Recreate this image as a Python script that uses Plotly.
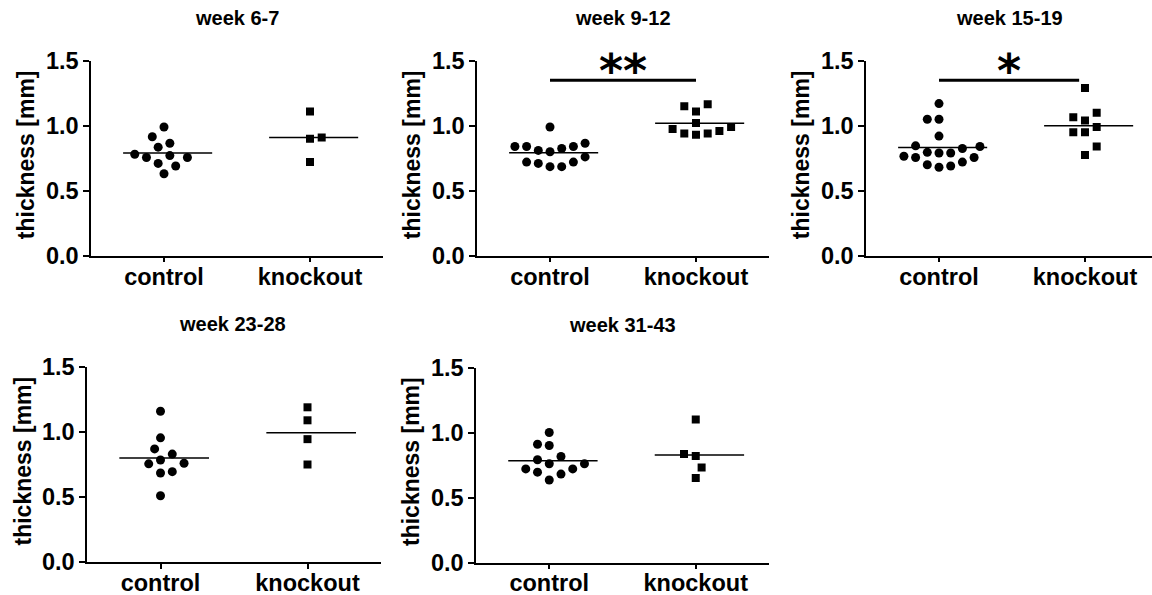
import plotly.graph_objects as go
import numpy as np

# ---------------- data ----------------
categories = ["control", "knockout"]
titles = ["week 6-7", "week 9-12", "week 15-19", "week 23-28", "week 31-43"]
y_tickvals = [0.0, 0.5, 1.0, 1.5]
y_ticktext = ["0.0", "0.5", "1.0", "1.5"]
y_title = "thickness [mm]"

wk6_control = [0.99, 0.915, 0.865, 0.835, 0.78, 0.755, 0.755, 0.77, 0.71, 0.69, 0.63]
wk6_knockout = [1.11, 0.91, 0.90, 0.72]
wk9_control = [0.99, 0.84, 0.84, 0.81, 0.80, 0.825, 0.84, 0.865, 0.76, 0.72, 0.71, 0.685, 0.685, 0.72]
wk9_knockout = [1.15, 1.11, 1.165, 1.02, 0.975, 0.94, 0.93, 0.94, 0.96, 0.99]
wk15_control = [1.17, 1.05, 1.05, 0.92, 0.845, 0.825, 0.84, 0.765, 0.755, 0.79, 0.79, 0.795,
                0.755, 0.69, 0.68, 0.70, 0.72]
wk15_knockout = [1.29, 1.10, 1.065, 1.04, 0.99, 0.95, 0.95, 0.84, 0.775]
wk23_control = [1.16, 0.955, 0.87, 0.83, 0.785, 0.76, 0.755, 0.695, 0.685, 0.51]
wk23_knockout = [1.19, 1.09, 0.945, 0.75]
wk31_control = [1.00, 0.90, 0.91, 0.815, 0.79, 0.76, 0.76, 0.72, 0.72, 0.695, 0.68, 0.635]
wk31_knockout = [1.10, 0.835, 0.82, 0.73, 0.65]

significance = ["", "**", "*", "", ""]
sig_height = 1.35

# ---------------- layout geometry ----------------
W, H = 1152, 595
panels = [
    dict(ctrl=wk6_control, ko=wk6_knockout, x0=91, x1=383, yt=60.7, yb=255.7, xr=(-0.5, 1.5)),
    dict(ctrl=wk9_control, ko=wk9_knockout, x0=477, x1=769, yt=60.7, yb=255.7, xr=(-0.5, 1.5)),
    dict(ctrl=wk15_control, ko=wk15_knockout, x0=866, x1=1152, yt=60.7, yb=255.7, xr=(-0.5, 1.459)),
    dict(ctrl=wk23_control, ko=wk23_knockout, x0=87, x1=381, yt=367.0, yb=562.0, xr=(-0.5, 1.5)),
    dict(ctrl=wk31_control, ko=wk31_knockout, x0=476, x1=769, yt=367.5, yb=562.5, xr=(-0.5, 1.5)),
]

FONT = "Liberation Sans, Arial, Helvetica, sans-serif"
X_PX = 146.0   # pixels per category unit
Y_PX = 130.0   # pixels per mm
DIAM = 11.7    # minimum centre distance between symbols (px)


def swarm_offsets(vals, d=DIAM):
    """Simple beeswarm: place symbols at the smallest horizontal offset that avoids overlap."""
    step = d / 2.0
    cands = [0.0]
    for k in range(1, 40):
        cands += [k * step, -k * step]
    order = sorted(range(len(vals)), key=lambda i: vals[i])
    placed = []
    offs = [0.0] * len(vals)
    for i in order:
        y = vals[i] * Y_PX
        feas = [o for o in cands
                if all((o - px) ** 2 + (y - py) ** 2 >= d * d - 1e-6 for px, py in placed)]
        best = min(abs(o) for o in feas)
        opts = [o for o in feas if abs(o) == best]
        if len(opts) > 1:
            left = sum(1 for px, _ in placed if px < 0)
            right = sum(1 for px, _ in placed if px > 0)
            o = min(opts) if left < right else max(opts)
        else:
            o = opts[0]
        placed.append((o, y))
        offs[i] = o / X_PX
    return offs


fig = go.Figure()
layout = dict(
    width=W, height=H, autosize=False,
    margin=dict(l=0, r=0, t=0, b=0, pad=0),
    paper_bgcolor="white", plot_bgcolor="white",
    showlegend=False,
    font=dict(family=FONT, color="black"),
)
annotations = []
shapes = []

for idx, p in enumerate(panels):
    n = idx + 1
    xa = "xaxis" if n == 1 else f"xaxis{n}"
    ya = "yaxis" if n == 1 else f"yaxis{n}"
    xr = "x" if n == 1 else f"x{n}"
    yr = "y" if n == 1 else f"y{n}"
    dom_x = [p["x0"] / W, p["x1"] / W]
    dom_y = [1 - p["yb"] / H, 1 - p["yt"] / H]

    layout[xa] = dict(
        domain=dom_x, anchor=yr, range=list(p["xr"]), automargin=False,
        tickmode="array", tickvals=[0, 1], ticktext=categories,
        ticks="outside", ticklen=5, tickwidth=1.5, tickcolor="black",
        ticklabelstandoff=-6,
        showline=True, linecolor="black", linewidth=1.5,
        showgrid=False, zeroline=False, fixedrange=True,
        tickfont=dict(family=FONT, size=23.5, color="black", weight="bold"),
    )
    layout[ya] = dict(
        domain=dom_y, anchor=xr, range=[0, 1.5], automargin=False,
        tickmode="array", tickvals=y_tickvals, ticktext=y_ticktext,
        ticks="outside", ticklen=6, tickwidth=1.5, tickcolor="black",
        showline=True, linecolor="black", linewidth=1.5,
        showgrid=False, zeroline=False, fixedrange=True,
        tickfont=dict(family=FONT, size=23.5, color="black", weight="bold"),
    )

    for gi, (vals, sym, size) in enumerate([(p["ctrl"], "circle", 9), (p["ko"], "square", 8)]):
        offs = swarm_offsets(vals)
        fig.add_trace(go.Scatter(
            x=[gi + o for o in offs], y=vals, mode="markers",
            marker=dict(symbol=sym, size=size, color="black", line=dict(width=0)),
            xaxis=xr, yaxis=yr, hoverinfo="skip",
        ))
        m = float(np.mean(vals))
        fig.add_trace(go.Scatter(
            x=[gi - 0.28, gi + 0.33], y=[m, m], mode="lines",
            line=dict(color="black", width=1.5),
            xaxis=xr, yaxis=yr, hoverinfo="skip",
        ))

    # panel title
    annotations.append(dict(
        text=titles[idx], xref="paper", yref="paper",
        x=(dom_x[0] + min(dom_x[0] + 292 / W, 1.0)) / 2, y=1 - (p["yt"] - 42.5) / H,
        xanchor="center", yanchor="middle", showarrow=False,
        font=dict(family=FONT, size=20, color="black", weight="bold"),
    ))
    # y-axis title
    annotations.append(dict(
        text=y_title, xref="paper", yref="paper",
        x=(p["x0"] - 65) / W, y=(dom_y[0] + dom_y[1]) / 2 + 3 / H,
        xanchor="center", yanchor="middle", textangle=-90, showarrow=False,
        font=dict(family=FONT, size=23, color="black", weight="bold"),
    ))

    if significance[idx]:
        x_end = 1.0 if idx == 1 else 0.96
        shapes.append(dict(
            type="line", xref=xr, yref=yr, x0=0, x1=x_end, y0=sig_height, y1=sig_height,
            line=dict(color="black", width=3),
        ))
        annotations.append(dict(
            text=significance[idx], xref=xr, yref=yr,
            x=x_end / 2, y=sig_height, xanchor="center", yanchor="bottom",
            showarrow=False, yshift=-20,
            font=dict(family="DejaVu Sans", size=46, color="black", weight="bold"),
        ))

layout["annotations"] = annotations
layout["shapes"] = shapes
fig.update_layout(**layout)

fig.write_html("out.html", config={"displayModeBar": False},
               post_script="document.body.style.margin='0';")
